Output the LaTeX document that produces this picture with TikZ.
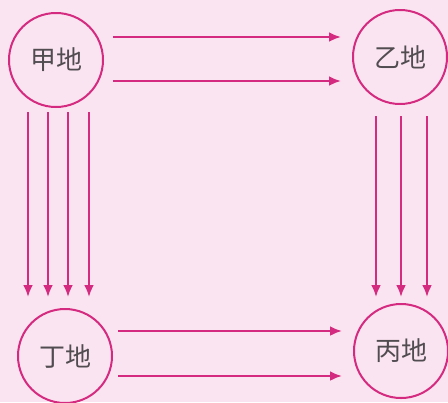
\documentclass[tikz,border=0pt]{standalone}
\usepackage{fontspec}
\newfontfamily\cjk{Noto Sans CJK SC}
\usetikzlibrary{arrows.meta}
\definecolor{bgpink}{RGB}{251,228,241}
\definecolor{flowred}{RGB}{212,42,128}
\definecolor{placegray}{RGB}{80,76,80}

\begin{document}
\begin{tikzpicture}[x=0.5pt, y=-0.5pt,
  place/.style={circle, draw=flowred, line width=1pt, minimum size=47pt, inner sep=0pt,
    text=placegray, font=\cjk\fontsize{13}{13}\selectfont},
  flow/.style={draw=flowred, line width=1.2pt, -{Latex[length=6pt, width=5pt]}}]
  \fill[bgpink] (0,0) rectangle (448,402);
  \useasboundingbox (0,0) rectangle (448,402);
  \node[place] (jia) at (56,60) {甲地};
  \node[place] (yi) at (400,57) {乙地};
  \node[place] (ding) at (65,356) {丁地};
  \node[place] (bing) at (401,351) {丙地};
  \foreach \y in {37, 81}
   \draw[flow, shorten <=4.5pt, shorten >=5.5pt] (jia.east |- 0,\y) -- (yi.west |- 0,\y);
  \foreach \y in {331, 376}
   \draw[flow, shorten <=2.5pt, shorten >=5.5pt] (ding.east |- 0,\y) -- (bing.west |- 0,\y);
  \foreach \x in {28, 48, 68, 89}
   \draw[flow, shorten <=2pt, shorten >=5.5pt] (jia.south -| \x,0) -- (ding.north -| \x,0);
  \foreach \x in {376, 401, 427}
   \draw[flow, shorten <=5.5pt, shorten >=3pt] (yi.south -| \x,0) -- (bing.north -| \x,0);
\end{tikzpicture}
\end{document}
